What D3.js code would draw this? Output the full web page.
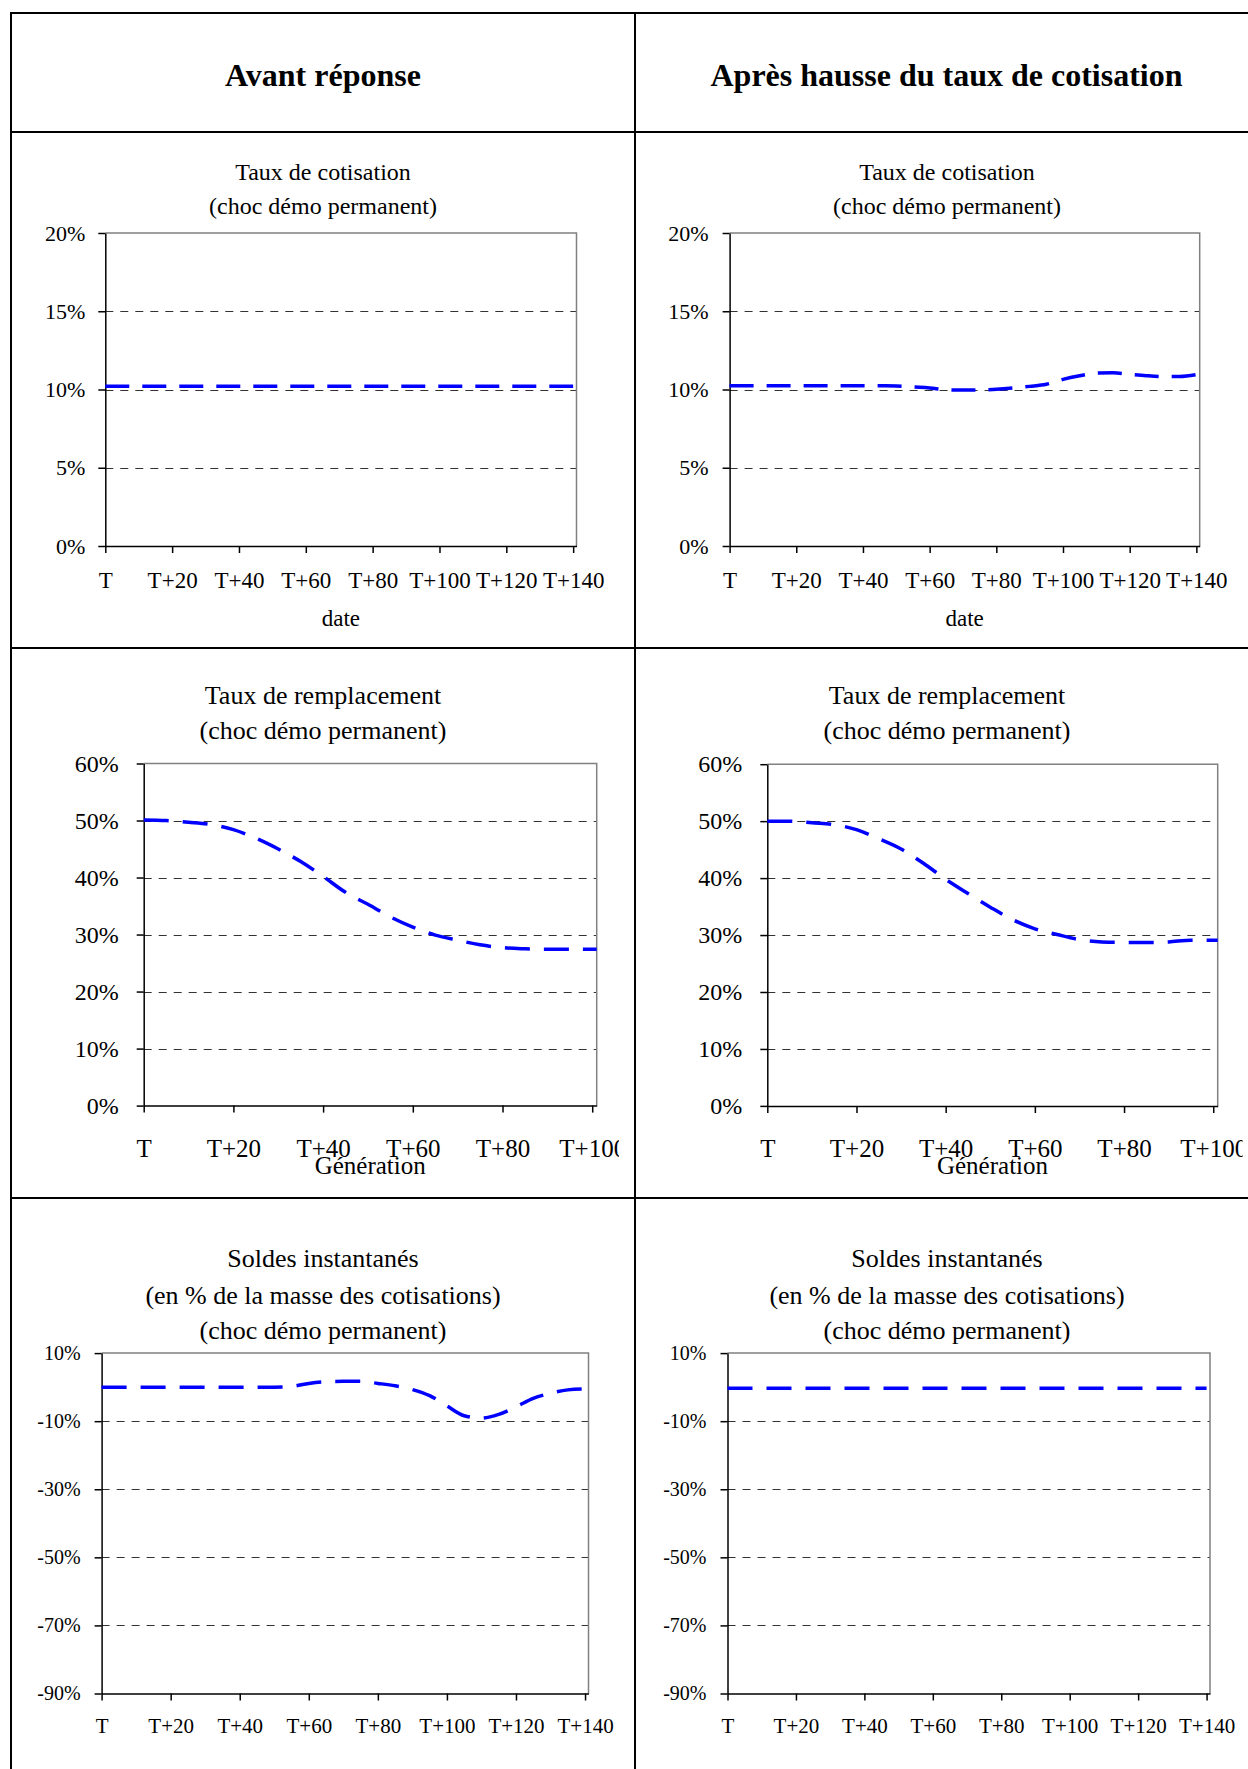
<!DOCTYPE html>
<html><head><meta charset="utf-8">
<script src="https://cdn.jsdelivr.net/npm/d3@7"></script>
<style>html,body{margin:0;padding:0;background:#fff;} svg{display:block;}</style>
</head><body>
<svg id="c" width="1248" height="1769"></svg>
<script>
// ---------------- DATA ----------------
const headers = ["Avant réponse", "Après hausse du taux de cotisation"];

const titleCotisation = ["Taux de cotisation", "(choc démo permanent)"];
const titleRemplacement = ["Taux de remplacement", "(choc démo permanent)"];
const titleSoldes = ["Soldes instantanés", "(en % de la masse des cotisations)", "(choc démo permanent)"];

const axisTitleDate = "date";
const axisTitleGeneration = "Génération";

// x categories (years after T)
const yearsLong = [0,5,10,15,20,25,30,35,40,45,50,55,60,65,70,75,80,85,90,95,100,105,110,115,120,125,130,135,140];
const yearsShort = [0,5,10,15,20,25,30,35,40,45,50,55,60,65,70,75,80,85,90,95,100,101];

const xTicksLong = [0,20,40,60,80,100,120,140];
const xTicksShort = [0,20,40,60,80,100];

const yTicksCotisation = [0,5,10,15,20];
const yTicksRemplacement = [0,10,20,30,40,50,60];
const yTicksSoldes = [-90,-70,-50,-30,-10,10];

// Taux de cotisation (%), avant réponse
const cotisationAvant = [10.2,10.2,10.2,10.2,10.2,10.2,10.2,10.2,10.2,10.2,10.2,10.2,10.2,10.2,10.2,10.2,10.2,10.2,10.2,10.2,10.2,10.2,10.2,10.2,10.2,10.2,10.2,10.2,10.2];
// Taux de cotisation (%), après hausse
const cotisationApres = [10.24,10.24,10.24,10.24,10.24,10.24,10.24,10.24,10.24,10.24,10.23,10.16,10.1,9.98,9.97,9.97,10.02,10.1,10.2,10.33,10.65,10.88,11.05,11.07,10.97,10.88,10.83,10.83,10.95];

// Taux de remplacement (%)
const remplacementAvant = [50.1,50.0,49.7,49.3,48.4,46.9,45.0,42.8,40.2,37.4,35.3,33.1,31.3,29.9,29.0,28.2,27.7,27.5,27.4,27.4,27.4,27.4];
const remplacementApres = [50.0,50.0,49.7,49.4,48.5,46.9,45.1,42.6,39.8,37.3,34.9,32.7,31.1,30.1,29.2,28.8,28.7,28.7,28.8,29.1,29.1,29.1];

// Soldes instantanés (% de la masse des cotisations)
const soldesAvant = [0,0,0,0,0,0,0,0,0,0,0,0.2,1.1,1.6,1.7,1.7,1.1,0.4,-0.7,-2.5,-5.5,-8.4,-9.1,-8.0,-5.8,-3.3,-1.8,-0.8,-0.5];
const soldesApres = [-0.3,-0.3,-0.3,-0.3,-0.3,-0.3,-0.3,-0.3,-0.3,-0.3,-0.3,-0.3,-0.3,-0.3,-0.3,-0.3,-0.3,-0.3,-0.3,-0.3,-0.3,-0.3,-0.3,-0.3,-0.3,-0.3,-0.3,-0.3,-0.3];

// ---------------- LAYOUT ----------------
const FONT = "'Liberation Serif','Times New Roman',Times,serif";
const svg = d3.select("#c");

// table grid
const tbl = svg.append("g").attr("stroke", "#000").attr("stroke-width", 2);
tbl.append("line").attr("x1", 10).attr("x2", 1248).attr("y1", 13).attr("y2", 13);
tbl.append("line").attr("x1", 11).attr("x2", 11).attr("y1", 12).attr("y2", 1769);
tbl.append("line").attr("x1", 635).attr("x2", 635).attr("y1", 12).attr("y2", 1769);
[132, 648, 1198].forEach(yy => tbl.append("line").attr("x1", 10).attr("x2", 1248).attr("y1", yy).attr("y2", yy));

// headers
const headerX = [323, 946.5];
headers.forEach((h, i) => {
  svg.append("text").attr("x", headerX[i]).attr("y", 74.5).attr("dy", "0.35em")
    .attr("text-anchor", "middle").attr("font-family", FONT).attr("font-weight", "bold")
    .attr("font-size", 32).attr("fill", "#000").text(h);
});

const charts = [
  { title: titleCotisation, tcx: 323, tys: [172, 206], tfs: 24,
    x0: 105.3, x1: 576.5, y0: 233, y1: 546, xDomain: [0, 141], yDomain: [0, 20],
    yTicks: yTicksCotisation, xTicks: xTicksLong, years: yearsLong, values: cotisationAvant,
    yfs: 22, xfs: 23, yOff: 20, xLabY: 580, axisTitle: axisTitleDate, atY: 618, atfs: 23, dash: "24,13" },
  { title: titleCotisation, tcx: 947, tys: [172, 206], tfs: 24,
    x0: 729.6, x1: 1199.7, y0: 233, y1: 546, xDomain: [0, 141], yDomain: [0, 20],
    yTicks: yTicksCotisation, xTicks: xTicksLong, years: yearsLong, values: cotisationApres,
    yfs: 22, xfs: 23, yOff: 21, xLabY: 580, axisTitle: axisTitleDate, atY: 618, atfs: 23, dash: "24,13" },
  { title: titleRemplacement, tcx: 323, tys: [695, 730], tfs: 26,
    x0: 143.7, x1: 596.7, y0: 763.5, y1: 1105.6, xDomain: [0, 101], yDomain: [0, 60],
    yTicks: yTicksRemplacement, xTicks: xTicksShort, years: yearsShort, values: remplacementAvant,
    yfs: 24, xfs: 25, yOff: 25, xLabY: 1148, axisTitle: axisTitleGeneration, atY: 1165, atfs: 25, dash: "25,14", clip: 619 },
  { title: titleRemplacement, tcx: 947, tys: [695, 730], tfs: 26,
    x0: 767.3, x1: 1217.7, y0: 764.2, y1: 1105.9, xDomain: [0, 101], yDomain: [0, 60],
    yTicks: yTicksRemplacement, xTicks: xTicksShort, years: yearsShort, values: remplacementApres,
    yfs: 24, xfs: 25, yOff: 25, xLabY: 1148, axisTitle: axisTitleGeneration, atY: 1165, atfs: 25, dash: "25,14", clip: 1242.6 },
  { title: titleSoldes, tcx: 323, tys: [1258, 1294.5, 1330], tfs: 26,
    x0: 101.6, x1: 588.5, y0: 1353.1, y1: 1693.5, xDomain: [0, 141], yDomain: [-90, 10],
    yTicks: yTicksSoldes, xTicks: xTicksLong, years: yearsLong, values: soldesAvant,
    yfs: 20, xfs: 21, yOff: 21, xLabY: 1726, dash: "25,14" },
  { title: titleSoldes, tcx: 947, tys: [1258, 1294.5, 1330], tfs: 26,
    x0: 727.5, x1: 1210, y0: 1353.1, y1: 1693.5, xDomain: [0, 141], yDomain: [-90, 10],
    yTicks: yTicksSoldes, xTicks: xTicksLong, years: yearsLong, values: soldesApres,
    yfs: 20, xfs: 21, yOff: 21, xLabY: 1726, dash: "25,14" }
];

const defs = svg.append("defs");

charts.forEach((c, idx) => {
  const g = svg.append("g");
  if (c.clip) {
    defs.append("clipPath").attr("id", "clip" + idx)
      .append("rect").attr("x", 0).attr("y", 0).attr("width", c.clip).attr("height", 1769);
    g.attr("clip-path", `url(#clip${idx})`);
  }
  // titles
  c.title.forEach((t, i) => {
    g.append("text").attr("x", c.tcx).attr("y", c.tys[i]).attr("dy", "0.35em")
      .attr("text-anchor", "middle").attr("font-family", FONT).attr("font-size", c.tfs)
      .attr("fill", "#000").text(t);
  });

  const x = d3.scaleLinear().domain(c.xDomain).range([c.x0, c.x1]);
  const y = d3.scaleLinear().domain(c.yDomain).range([c.y1, c.y0]);

  // gridlines (dashed), excluding min & max
  const grid = c.yTicks.filter(v => v !== c.yDomain[0] && v !== c.yDomain[1]);
  g.append("g").selectAll("line").data(grid).join("line")
    .attr("x1", c.x0).attr("x2", c.x1)
    .attr("y1", d => Math.round(y(d)) + 0.5).attr("y2", d => Math.round(y(d)) + 0.5)
    .attr("stroke", "#333").attr("stroke-width", 1).attr("stroke-dasharray", "8,7");

  // plot frame (top & right, grey)
  g.append("path").attr("d", `M${c.x0},${y(c.yDomain[1])}H${c.x1}V${c.y1}`)
    .attr("fill", "none").attr("stroke", "#808080").attr("stroke-width", 1.5);

  // y axis
  const yAxis = d3.axisLeft(y).tickValues(c.yTicks).tickSize(7).tickSizeOuter(0)
    .tickPadding(c.yOff - 7).tickFormat(d => d + "%");
  const ya = g.append("g").attr("transform", `translate(${c.x0},0)`).call(yAxis);
  ya.select(".domain").attr("stroke", "#000").attr("stroke-width", 1.5);
  ya.selectAll(".tick line").attr("stroke", "#000").attr("stroke-width", 1.5);
  ya.selectAll(".tick text").attr("font-family", FONT).attr("font-size", c.yfs).attr("fill", "#000");

  // x axis
  const xAxis = d3.axisBottom(x).tickValues(c.xTicks).tickSize(7).tickSizeOuter(0)
    .tickFormat(d => d === 0 ? "T" : "T+" + d);
  const xa = g.append("g").attr("transform", `translate(0,${c.y1})`).call(xAxis);
  xa.select(".domain").attr("stroke", "#000").attr("stroke-width", 1.5);
  xa.selectAll(".tick line").attr("stroke", "#000").attr("stroke-width", 1.5);
  xa.selectAll(".tick text").attr("font-family", FONT).attr("font-size", c.xfs).attr("fill", "#000")
    .attr("y", c.xLabY - c.y1).attr("dy", "0.35em");

  // axis title
  if (c.axisTitle) {
    g.append("text").attr("x", (c.x0 + c.x1) / 2).attr("y", c.atY).attr("dy", "0.35em")
      .attr("text-anchor", "middle").attr("font-family", FONT).attr("font-size", c.atfs)
      .attr("fill", "#000").text(c.axisTitle);
  }

  // series line
  const pts = c.years.map((t, i) => ({ t: t, v: c.values[i] }));
  const line = d3.line().x(d => x(d.t)).y(d => y(d.v)).curve(d3.curveMonotoneX);
  g.append("path").datum(pts).attr("d", line).attr("fill", "none")
    .attr("stroke", "#0000FF").attr("stroke-width", 3.5).attr("stroke-dasharray", c.dash);
});
</script>
</body></html>
